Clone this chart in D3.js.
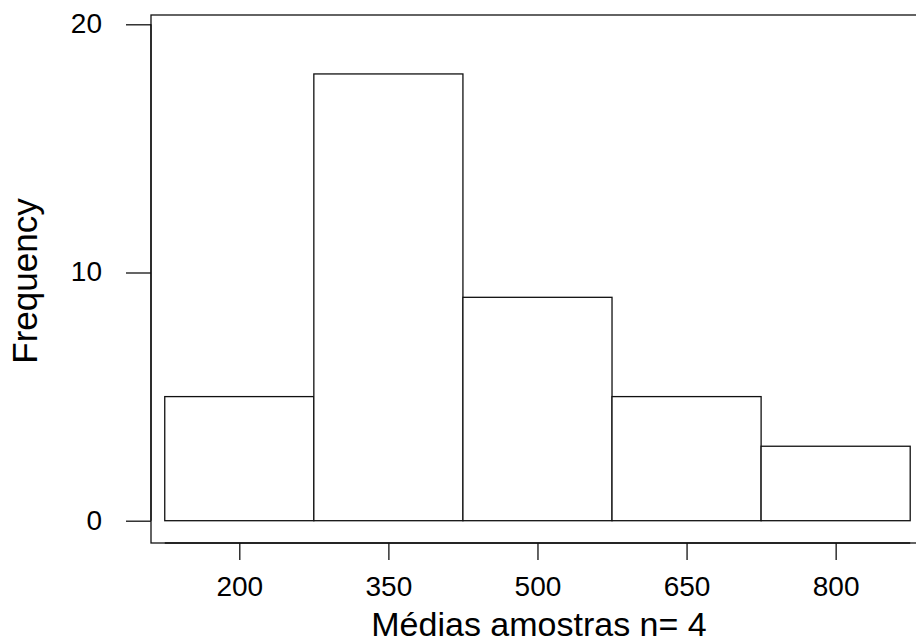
<!DOCTYPE html>
<html>
<head>
<meta charset="utf-8">
<script src="https://cdn.jsdelivr.net/npm/d3@7"></script>
<style>
  body { margin: 0; background: #fff; }
  svg { display: block; font-family: "Liberation Sans", Arial, sans-serif; }
</style>
</head>
<body>
<svg id="chart" width="916" height="644"></svg>
<script>
// histogram bins (width 150) and counts
const binStarts = [125, 275, 425, 575, 725];
const binWidth = 150;
const counts = [5, 18, 9, 5, 3];
const xTicks = [200, 350, 500, 650, 800];
const yTicks = [0, 10, 20];

const svg = d3.select("#chart");

const x = d3.scaleLinear().domain([125, 875]).range([164.75, 910.2]);
const y = d3.scaleLinear().domain([0, 20]).range([520.7, 24.3]);

const box = { left: 151, top: 15, right: 918, bottom: 543 };
const stroke = "#111";
const sw = 1.3;

// frame
svg.append("rect")
  .attr("x", box.left).attr("y", box.top)
  .attr("width", box.right - box.left).attr("height", box.bottom - box.top)
  .attr("fill", "none").attr("stroke", stroke).attr("stroke-width", sw);

// bars
svg.append("g").selectAll("rect")
  .data(counts)
  .enter()
  .append("rect")
  .attr("x", (d, i) => x(binStarts[i]))
  .attr("y", d => y(d))
  .attr("width", (d, i) => x(binStarts[i] + binWidth) - x(binStarts[i]))
  .attr("height", d => y(0) - y(d))
  .attr("fill", "#fff")
  .attr("stroke", stroke)
  .attr("stroke-width", sw);

// y axis
const yAxis = d3.axisLeft(y).tickValues(yTicks).tickSize(25).tickPadding(24).tickFormat(d3.format("d"));
const gy = svg.append("g").attr("transform", `translate(${box.left},0)`).call(yAxis);
gy.select(".domain").attr("stroke", stroke).attr("stroke-width", sw).attr("d", `M0,${y(0)}V${y(20)}`);
gy.selectAll(".tick line").attr("stroke", stroke).attr("stroke-width", sw);
gy.selectAll(".tick text")
  .attr("font-size", 28).attr("fill", "#000")
  .attr("font-family", "Liberation Sans, Arial, sans-serif")
  .attr("dy", "0.3em");

// x axis
const xAxis = d3.axisBottom(x).tickValues(xTicks).tickSize(17).tickPadding(16).tickFormat(d3.format("d"));
const gx = svg.append("g").attr("transform", `translate(0,${box.bottom})`).call(xAxis);
gx.select(".domain").attr("stroke", stroke).attr("stroke-width", sw).attr("d", `M${x(125)},0H${x(875)}`);
gx.selectAll(".tick line").attr("stroke", stroke).attr("stroke-width", sw);
gx.selectAll(".tick text")
  .attr("font-size", 28).attr("fill", "#000")
  .attr("font-family", "Liberation Sans, Arial, sans-serif")
  .attr("dy", "0.71em");

// titles
svg.append("text")
  .attr("x", 539).attr("y", 636)
  .attr("text-anchor", "middle")
  .attr("font-size", 34)
  .text("Médias amostras n= 4");

svg.append("text")
  .attr("transform", "translate(37,281) rotate(-90)")
  .attr("text-anchor", "middle")
  .attr("font-size", 35)
  .text("Frequency");
</script>
</body>
</html>
